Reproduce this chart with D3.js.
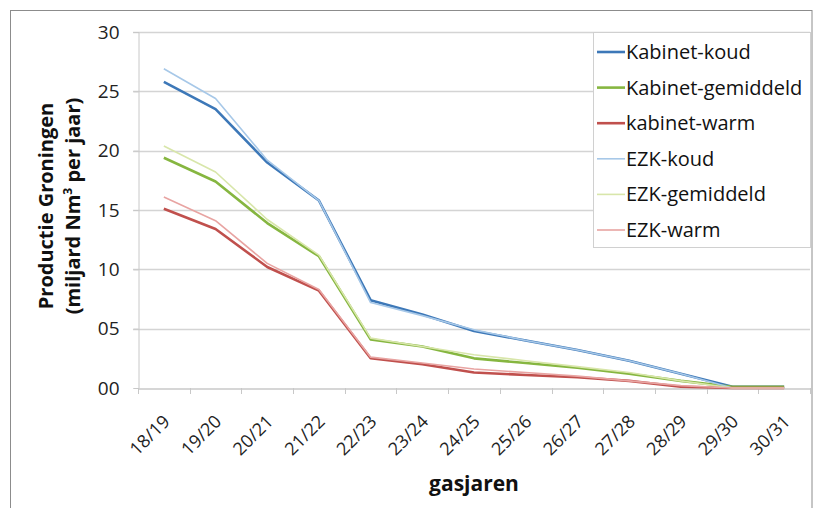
<!DOCTYPE html>
<html><head><meta charset="utf-8">
<script src="https://cdn.jsdelivr.net/npm/d3@7"></script>
<style>body{margin:0;background:#fff}svg{display:block}</style>
</head><body><svg id="c" width="813" height="508"></svg>
<script>
const categories = ["18/19","19/20","20/21","21/22","22/23","23/24","24/25","25/26","26/27","27/28","28/29","29/30","30/31"];
const yTicks = [0,5,10,15,20,25,30];
const yTickLabels = ["00","05","10","15","20","25","30"];
const seriesNames = ["Kabinet-koud","Kabinet-gemiddeld","kabinet-warm","EZK-koud","EZK-gemiddeld","EZK-warm"];
const kabinetKoud = [25.8,23.5,19.0,15.8,7.4,6.2,4.8,4.0,3.2,2.3,1.2,0.1,0.1];
const kabinetGemiddeld = [19.4,17.4,13.9,11.1,4.1,3.5,2.5,2.1,1.7,1.2,0.6,0.1,0.1];
const kabinetWarm = [15.1,13.4,10.2,8.2,2.5,2.0,1.3,1.1,0.9,0.6,0.1,0.0,0.0];
const ezkKoud = [26.9,24.4,19.2,15.8,7.2,6.1,4.9,4.0,3.2,2.3,1.2,0.0,0.0];
const ezkGemiddeld = [20.4,18.2,14.2,11.2,4.2,3.5,2.8,2.3,1.8,1.3,0.6,0.0,0.0];
const ezkWarm = [16.1,14.1,10.5,8.3,2.6,2.1,1.6,1.3,1.0,0.6,0.2,0.0,0.0];
const seriesValues = [kabinetKoud,kabinetGemiddeld,kabinetWarm,ezkKoud,ezkGemiddeld,ezkWarm];
const colors = ["#3d78b8","#86b640","#c0504d","#a7c8e8","#d8e6aa","#e8a4a2"];
const widths = [2.6,2.6,2.6,1.6,1.6,1.6];

const svg = d3.select("#c");
const font = "'Open Sans', 'DejaVu Sans', sans-serif";
svg.append("rect").attr("x",10.5).attr("y",10.5).attr("width",801.5).attr("height",510)
  .attr("fill","#fff").attr("stroke","#8c8c8c");

const L=138, R=810, T=32, B=388;
const x = d3.scaleBand().domain(categories).range([L,R]);
const y = d3.scaleLinear().domain([0,30]).range([B,T]);

// gridlines
svg.append("g").selectAll("line").data(yTicks.filter(d=>d>0)).join("line")
  .attr("x1",L-5).attr("x2",R).attr("y1",d=>Math.round(y(d))+0.5).attr("y2",d=>Math.round(y(d))+0.5)
  .attr("stroke","#d4d4d4").attr("stroke-width",1.3);

// y axis
const ya = svg.append("g").attr("transform",`translate(${L+0.5},0)`)
  .call(d3.axisLeft(y).tickValues(yTicks).tickFormat((d,i)=>yTickLabels[i]).tickSize(5).tickPadding(14));
ya.select(".domain").attr("stroke","#c8c8c8");
ya.selectAll(".tick line").attr("stroke","#c8c8c8");
ya.selectAll("text").attr("font-family",font).attr("font-size",19).attr("fill","#222");

// x axis
const xa = svg.append("g").attr("transform",`translate(0,${B+0.5})`)
  .call(d3.axisBottom(x).tickSize(0).tickPadding(8));
xa.select(".domain").attr("stroke","#c8c8c8").attr("stroke-width",1.3);
xa.selectAll(".tick text").attr("font-family",font).attr("font-size",18).attr("fill","#222")
  .attr("text-anchor","end").attr("dy","0.35em").attr("transform","translate(-3,24) rotate(-45)");
svg.append("g").selectAll("line").data(d3.range(categories.length+1)).join("line")
  .attr("x1",i=>Math.round(L+i*x.step())+0.5).attr("x2",i=>Math.round(L+i*x.step())+0.5)
  .attr("y1",B).attr("y2",B+6).attr("stroke","#c8c8c8");

// lines
const line = d3.line().x((d,i)=>x(categories[i])+x.bandwidth()/2).y(d=>y(d));
seriesValues.forEach((vals,k)=>{
  svg.append("path").datum(vals).attr("d",line).attr("fill","none")
    .attr("stroke",colors[k]).attr("stroke-width",widths[k]).attr("stroke-linejoin","round");
});

// legend
svg.append("rect").attr("x",593.5).attr("y",32.5).attr("width",217).attr("height",215)
  .attr("fill","#fff").attr("stroke","#d0d0d0");
const lg = svg.append("g").selectAll("g").data(seriesNames).join("g")
  .attr("transform",(d,i)=>`translate(597,${52+i*35.6})`);
lg.append("line").attr("x1",0).attr("x2",28).attr("stroke",(d,i)=>colors[i]).attr("stroke-width",(d,i)=>widths[i]);
lg.append("text").attr("x",29).attr("dy","0.35em").text(d=>d)
  .attr("font-family",font).attr("font-size",20).attr("fill","#111");

// titles
const yt = svg.append("text").attr("transform","translate(53,206) rotate(-90)")
  .attr("text-anchor","middle").attr("font-family",font).attr("font-weight","bold").attr("font-size",20).attr("fill","#111");
yt.append("tspan").attr("x",0).attr("dy",0).text("Productie Groningen");
const t2 = yt.append("tspan").attr("x",0).attr("dy",27).text("(miljard Nm");
t2.append("tspan").attr("baseline-shift","super").attr("font-size",12).text("3");
yt.append("tspan").text(" per jaar)");

svg.append("text").attr("x",474).attr("y",491).attr("text-anchor","middle")
  .attr("font-family",font).attr("font-weight","bold").attr("font-size",21).attr("fill","#111").text("gasjaren");
</script></body></html>
